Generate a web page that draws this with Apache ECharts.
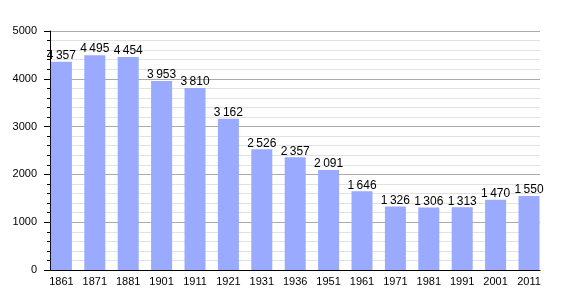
<!DOCTYPE html>
<html><head><meta charset="utf-8">
<script src="https://cdn.jsdelivr.net/npm/echarts@6/dist/echarts.min.js"></script>
<style>html,body{margin:0;padding:0;background:#fff}#c{width:570px;height:300px}</style>
</head><body><div id="c"></div>
<script>
const years = ['1861','1871','1881','1901','1911','1921','1931','1936','1951','1961','1971','1981','1991','2001','2011'];
const population = [4357,4495,4454,3953,3810,3162,2526,2357,2091,1646,1326,1306,1313,1470,1550];
const yTicks = [0,1000,2000,3000,4000,5000];

const chart = echarts.init(document.getElementById('c'), null, {renderer:'canvas'});
const font = 'Liberation Sans, Arial, sans-serif';
chart.setOption({
  animation:false,
  grid:[
    {left:50, right:30, top:31, bottom:30},
    {left:44.7, right:24.3, top:31, bottom:30}
  ],
  xAxis:[
    {gridIndex:0, type:'category', data:years, boundaryGap:true,
     axisLine:{show:true, lineStyle:{color:'#000', width:1}}, axisTick:{show:false}, axisLabel:{show:false}, splitLine:{show:false}},
    {gridIndex:1, type:'category', data:years, boundaryGap:true,
     axisLine:{show:false}, axisTick:{show:false},
     axisLabel:{color:'#000', fontSize:11, fontFamily:font, margin:6}}
  ],
  yAxis:[
    {gridIndex:0, type:'value', min:yTicks[0], max:yTicks[yTicks.length-1], interval:1000,
     axisLine:{show:true, lineStyle:{color:'#000'}},
     axisTick:{show:true, length:6, lineStyle:{color:'#000'}},
     minorTick:{show:true, splitNumber:5, length:3, lineStyle:{color:'#000'}},
     axisLabel:{color:'#000', fontSize:11, fontFamily:font, margin:13, formatter:v=>String(v)},
     splitLine:{show:true, lineStyle:{color:'#aaaaaa', width:1}},
     minorSplitLine:{show:true, lineStyle:{color:'#e2e2e2', width:1}}},
    {gridIndex:1, type:'value', min:0, max:5000, show:false, splitLine:{show:false}}
  ],
  series:[{
    type:'bar', xAxisIndex:1, yAxisIndex:1, data:population, barWidth:21,
    itemStyle:{color:'#99aaff'},
    label:{show:true, position:'top', distance:0, color:'#000', fontSize:12, fontFamily:font,
      formatter:p=>String(p.value).replace(/\B(?=(\d{3})+(?!\d))/g,'\u2009')}
  }]
});
</script></body></html>
